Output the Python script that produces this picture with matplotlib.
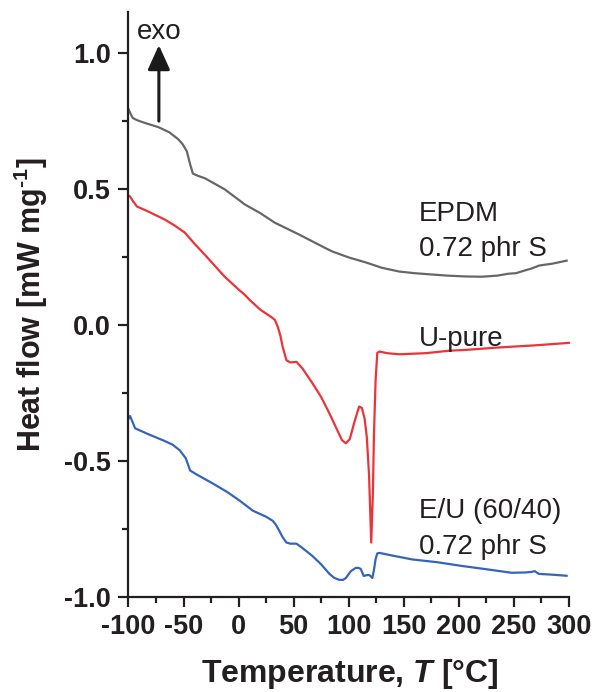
import numpy as np
import matplotlib.pyplot as plt
from matplotlib.ticker import MultipleLocator

plt.rcParams['font.family'] = ['Liberation Sans', 'DejaVu Sans']
plt.rcParams['axes.unicode_minus'] = False
plt.rcParams['mathtext.fontset'] = 'custom'
plt.rcParams['mathtext.it'] = 'Liberation Sans:italic:bold'
plt.rcParams['mathtext.rm'] = 'Liberation Sans:bold'
plt.rcParams['mathtext.bf'] = 'Liberation Sans:bold'

# DSC traces (T in degC, heat flow in mW/mg)
T_epdm = [-100, -98, -96, -92, -85, -73, -63, -55, -51, -47, -44, -41.5, -37, -30.7, -20,
          -12.6, 0, 5.5, 20, 32.7, 55, 78, 85, 100, 116, 130, 146, 160, 176, 190, 206, 221,
          235, 245, 252, 260, 266, 273, 285, 298]
hf_epdm = [0.793, 0.775, 0.76, 0.752, 0.742, 0.727, 0.708, 0.683, 0.665, 0.638, 0.59, 0.556,
           0.548, 0.539, 0.515, 0.498, 0.46, 0.443, 0.41, 0.376, 0.332, 0.284, 0.27, 0.248,
           0.229, 0.21, 0.196, 0.19, 0.185, 0.181, 0.178, 0.177, 0.181, 0.188, 0.19, 0.2,
           0.207, 0.218, 0.225, 0.236]

T_upure = [-100, -98.6, -96, -92.3, -82.3, -67, -58, -48.8, -40, -30.7, -20, -12.6, 0, 5.5,
           10, 20, 30, 33, 35.6, 38, 40, 43.5, 47, 52.6, 58, 67, 75, 82.5, 90, 94, 97.5, 101,
           105, 109.5, 112, 114.5, 116.5, 118.5, 120.5, 122, 123, 124.5, 126, 128, 135, 146,
           170, 191, 206, 236.5, 270, 297, 300]
hf_upure = [0.475, 0.472, 0.455, 0.435, 0.417, 0.387, 0.365, 0.339, 0.298, 0.258, 0.21,
            0.177, 0.13, 0.111, 0.092, 0.055, 0.028, 0.018, -0.007, -0.04, -0.08, -0.13,
            -0.138, -0.136, -0.16, -0.214, -0.265, -0.325, -0.39, -0.424, -0.435, -0.42,
            -0.36, -0.30, -0.305, -0.345, -0.413, -0.55, -0.80, -0.62, -0.40, -0.2, -0.103,
            -0.098, -0.104, -0.108, -0.104, -0.095, -0.092, -0.083, -0.075, -0.067, -0.066]

T_blend = [-100, -98.6, -96, -94, -83, -68.7, -60, -53.4, -48, -44, -39.7, -23.4, -10, 1, 13,
           25, 31, 34, 37, 40, 43.5, 47, 52.6, 58, 67, 75, 82.5, 87, 91.5, 95, 97.5, 102,
           106.5, 109, 111, 113.7, 116, 118.7, 121.5, 123, 124.5, 126, 128, 140, 157.7, 180,
           203, 225, 248, 260, 266, 269, 272.7, 285, 298]
hf_blend = [-0.345, -0.335, -0.36, -0.38, -0.40, -0.424, -0.44, -0.461, -0.49, -0.535,
            -0.546, -0.583, -0.615, -0.646, -0.683, -0.705, -0.72, -0.735, -0.757, -0.78,
            -0.80, -0.804, -0.804, -0.82, -0.849, -0.88, -0.915, -0.93, -0.937, -0.937,
            -0.93, -0.905, -0.893, -0.893, -0.897, -0.923, -0.92, -0.919, -0.93, -0.9,
            -0.86, -0.84, -0.838, -0.848, -0.862, -0.872, -0.886, -0.898, -0.911, -0.91,
            -0.908, -0.905, -0.915, -0.918, -0.922]

fig = plt.figure(figsize=(5.96, 6.92), dpi=100)
ax = fig.add_axes([0.2156, 0.1373, 0.7425, 0.8454])

ax.plot(T_epdm, hf_epdm, color='#67676a', lw=1.6)
ax.plot(T_upure, hf_upure, color='#ec3337', lw=1.6)
ax.plot(T_blend, hf_blend, color='#3465b8', lw=1.6)

# curve labels, one line at a time on their baselines
lbl = dict(fontsize=20, color='#231f20', va='baseline')
ax.text(164, 0.38, 'EPDM', **lbl)
ax.text(164, 0.255, '0.72 phr S', **lbl)
ax.text(164, -0.078, 'U-pure', **lbl)
ax.text(164, -0.708, 'E/U (60/40)', **lbl)
ax.text(164, -0.841, '0.72 phr S', **lbl)

ax.annotate('', xy=(-72.4, 1.028), xytext=(-72.4, 0.749),
            arrowprops=dict(arrowstyle='-|>,head_length=1.5,head_width=0.68',
                            color='#1a1a1a', lw=2.2, shrinkA=0, shrinkB=0))
ax.text(-72.4, 1.077, 'exo', fontsize=20, ha='center', va='center', color='#231f20')

ax.set_xlim(-100, 302)
ax.set_ylim(-1.0, 1.15)
ax.spines['top'].set_visible(False)
ax.spines['right'].set_visible(False)
for s in ['left', 'bottom']:
    ax.spines[s].set_linewidth(1.6)
    ax.spines[s].set_color('#231f20')
ax.spines['bottom'].set_bounds(-100, 300)

ax.xaxis.set_major_locator(MultipleLocator(50))
ax.xaxis.set_minor_locator(MultipleLocator(25))
ax.yaxis.set_major_locator(MultipleLocator(0.5))
ax.yaxis.set_minor_locator(MultipleLocator(0.25))
ax.tick_params(which='major', direction='out', length=7.5, width=1.6, color='#231f20',
               labelsize=19.5, pad=5)
ax.tick_params(which='minor', direction='out', length=4, width=1.6, color='#231f20')
ax.set_yticks([-1.0, -0.5, 0.0, 0.5, 1.0])
ax.set_yticklabels(['-1.0', '-0.5', '0.0', '0.5', '1.0'])
for lab in ax.get_xticklabels() + ax.get_yticklabels():
    lab.set_fontweight('bold')
    lab.set_color('#231f20')

ax.set_xlabel(r'Temperature, $T$ [°C]', fontsize=23, fontweight='bold', labelpad=12,
              color='#231f20')
ax.set_ylabel(r'Heat flow [mW mg$^{\text{-1}}$]', fontsize=22, fontweight='bold',
              labelpad=10, color='#231f20')

fig.savefig('out.png', dpi=100)
